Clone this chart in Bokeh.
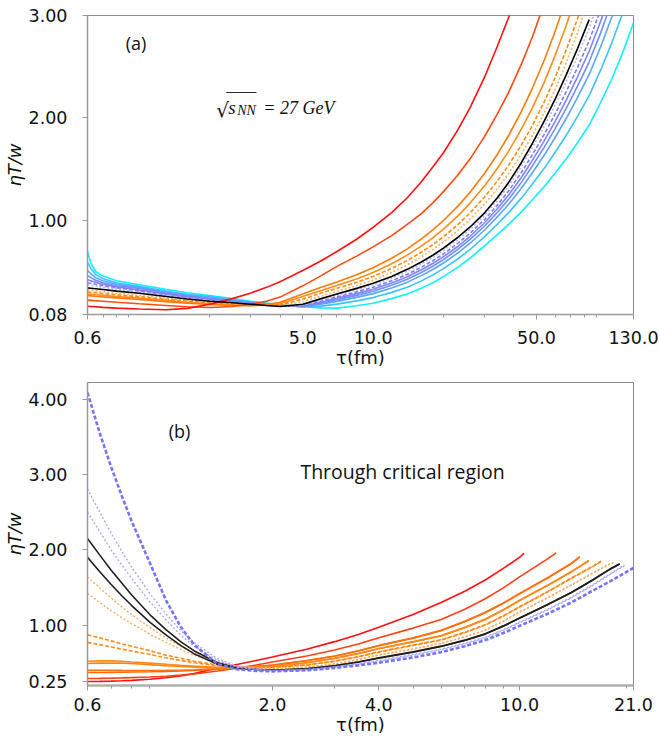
from bokeh.plotting import figure
from bokeh.layouts import column
from bokeh.models import Range1d, FixedTicker, PrintfTickFormatter, Label
from bokeh.embed import file_html
from bokeh.resources import INLINE

# ---------------- data: panel (a) ----------------
TAU_A = [0.6, 0.62, 0.65, 0.7, 0.8, 1.0, 1.3, 1.6, 2.0, 2.5, 3.0, 3.5, 4.0, 5.0, 6.0,
         7.0, 8.5, 10.0, 12.0, 14.0, 16.0, 18.0, 20.0, 23.0, 26.0, 30.0, 34.0, 38.0, 43.0,
         48.0, 54.0, 60.0, 67.0, 75.0, 84.0, 94.0, 105.0, 117.0, 130.0]
A_RED = [0.16, 0.158, 0.155, 0.15, 0.142, 0.133, 0.126, 0.14, 0.18, 0.235, 0.29, 0.345, 0.40, 0.51, 0.605,
         0.695, 0.815, 0.93, 1.075, 1.22, 1.37, 1.52, 1.66, 1.88, 2.1, 2.4, 2.7, 2.98, 3.35]
A_RORANGE = [0.22, 0.218, 0.215, 0.21, 0.2, 0.185, 0.168, 0.155, 0.148, 0.158, 0.18, 0.21, 0.25, 0.36, 0.46,
             0.55, 0.65, 0.74, 0.85, 0.96, 1.06, 1.17, 1.28, 1.44, 1.60, 1.82, 2.04, 2.25, 2.52, 2.79, 3.12]
A_OR1 = [0.265, 0.262, 0.258, 0.252, 0.242, 0.226, 0.206, 0.19, 0.178, 0.168, 0.165, 0.178, 0.2, 0.28, 0.345,
         0.398, 0.468, 0.537, 0.629, 0.721, 0.813, 0.906, 0.998, 1.136, 1.274, 1.459, 1.643, 1.828, 2.058,
         2.289, 2.565, 2.842, 3.164]
A_OR2 = [0.28, 0.277, 0.273, 0.267, 0.256, 0.24, 0.218, 0.2, 0.186, 0.175, 0.168, 0.174, 0.185, 0.255, 0.315,
         0.364, 0.427, 0.491, 0.575, 0.66, 0.745, 0.829, 0.914, 1.041, 1.168, 1.337, 1.506, 1.675, 1.887,
         2.098, 2.35, 2.606, 2.902, 3.24]
A_OR3 = [0.30, 0.296, 0.292, 0.285, 0.272, 0.254, 0.229, 0.21, 0.194, 0.181, 0.172, 0.171, 0.175, 0.23, 0.29,
         0.336, 0.394, 0.452, 0.53, 0.607, 0.685, 0.762, 0.84, 0.956, 1.073, 1.228, 1.383, 1.538, 1.732,
         1.926, 2.159, 2.392, 2.664, 2.974, 3.323]
A_OR4 = [0.32, 0.316, 0.311, 0.303, 0.288, 0.267, 0.24, 0.218, 0.2, 0.186, 0.176, 0.17, 0.168, 0.205, 0.26,
         0.305, 0.361, 0.416, 0.491, 0.565, 0.64, 0.714, 0.788, 0.9, 1.012, 1.16, 1.309, 1.458, 1.644,
         1.83, 2.053, 2.277, 2.537, 2.834, 3.169]
A_BLACK = [0.34, 0.337, 0.332, 0.324, 0.308, 0.288, 0.256, 0.232, 0.21, 0.194, 0.18, 0.168, 0.158, 0.18, 0.235,
           0.28, 0.335, 0.385, 0.452, 0.521, 0.59, 0.659, 0.728, 0.832, 0.935, 1.073, 1.22, 1.37, 1.56,
           1.75, 1.97, 2.18, 2.42, 2.68, 2.96]
A_BL1 = [0.37, 0.366, 0.358, 0.347, 0.328, 0.30, 0.265, 0.24, 0.215, 0.198, 0.183, 0.17, 0.16, 0.172, 0.225,
         0.269, 0.321, 0.369, 0.435, 0.502, 0.57, 0.637, 0.706, 0.809, 0.911, 1.047, 1.191, 1.337, 1.522,
         1.706, 1.919, 2.122, 2.354, 2.606, 2.878, 3.19]
A_BL2 = [0.39, 0.385, 0.375, 0.36, 0.34, 0.31, 0.272, 0.245, 0.22, 0.201, 0.186, 0.172, 0.162, 0.168, 0.212,
         0.252, 0.301, 0.346, 0.409, 0.473, 0.539, 0.605, 0.672, 0.774, 0.874, 1.008, 1.148, 1.288, 1.464,
         1.64, 1.842, 2.036, 2.256, 2.496, 2.754, 3.054]
A_BL3 = [0.42, 0.41, 0.395, 0.375, 0.35, 0.32, 0.28, 0.252, 0.23, 0.206, 0.19, 0.175, 0.164, 0.163, 0.2,
         0.239, 0.284, 0.327, 0.387, 0.449, 0.514, 0.578, 0.645, 0.744, 0.844, 0.976, 1.112, 1.247, 1.416,
         1.585, 1.778, 1.964, 2.174, 2.404, 2.651, 2.941, 3.262]
A_BL4 = [0.46, 0.44, 0.415, 0.39, 0.36, 0.335, 0.29, 0.258, 0.235, 0.21, 0.194, 0.178, 0.166, 0.16, 0.19,
         0.225, 0.267, 0.307, 0.365, 0.425, 0.488, 0.551, 0.617, 0.715, 0.813, 0.944, 1.076, 1.206, 1.368,
         1.53, 1.714, 1.892, 2.092, 2.312, 2.548, 2.828, 3.136]
A_BL5 = [0.51, 0.48, 0.44, 0.41, 0.375, 0.345, 0.3, 0.268, 0.245, 0.218, 0.198, 0.182, 0.168, 0.157, 0.18,
         0.208, 0.247, 0.284, 0.339, 0.396, 0.457, 0.519, 0.583, 0.68, 0.776, 0.905, 1.033, 1.157, 1.31,
         1.464, 1.637, 1.806, 1.994, 2.202, 2.424, 2.692, 2.985, 3.3]
A_BL6 = [0.59, 0.53, 0.47, 0.43, 0.39, 0.355, 0.31, 0.278, 0.255, 0.225, 0.202, 0.185, 0.17, 0.155, 0.162,
         0.181, 0.213, 0.245, 0.296, 0.347, 0.406, 0.465, 0.528, 0.622, 0.715, 0.84, 0.961, 1.075, 1.214,
         1.354, 1.509, 1.662, 1.83, 2.018, 2.218, 2.466, 2.733, 3.026, 3.35]
A_CYAN = [0.70, 0.58, 0.50, 0.455, 0.41, 0.37, 0.325, 0.292, 0.265, 0.235, 0.21, 0.192, 0.176, 0.156, 0.145,
          0.142, 0.165, 0.19, 0.235, 0.28, 0.335, 0.39, 0.45, 0.54, 0.63, 0.75, 0.86, 0.96, 1.08,
          1.2, 1.33, 1.46, 1.6, 1.76, 1.93, 2.15, 2.38, 2.64, 2.93]

A_XTICKS = [0.6, 5.0, 10.0, 50.0, 130.0]
A_XMINOR = [0.7, 0.8, 0.9, 2, 3, 4, 6, 7, 8, 9, 20, 30, 40, 60, 70, 80, 90]
A_YTICKS = [0.08, 1.0, 2.0, 3.0]

# ---------------- data: panel (b) ----------------
TAU_B = [0.6, 0.65, 0.7, 0.75, 0.8, 0.9, 1.0, 1.1, 1.2, 1.4, 1.6, 1.8, 2.0, 2.5, 3.0, 3.5, 4.0,
         5.0, 6.0, 7.0, 8.0, 9.0, 10.0, 12.0, 14.0, 16.0, 18.0, 21.0]
B_R1 = [0.25, 0.252, 0.255, 0.26, 0.265, 0.28, 0.30, 0.325, 0.355, 0.43, 0.48, 0.53, 0.575, 0.68, 0.78, 0.875,
        0.97, 1.14, 1.30, 1.45, 1.6, 1.755, 1.9]
B_R2 = [0.29, 0.292, 0.295, 0.298, 0.302, 0.31, 0.32, 0.335, 0.35, 0.39, 0.43, 0.47, 0.51, 0.59, 0.67, 0.75,
        0.833, 0.96, 1.075, 1.21, 1.35, 1.495, 1.64, 1.88]
B_O1 = [0.37, 0.37, 0.372, 0.374, 0.376, 0.38, 0.385, 0.39, 0.397, 0.415, 0.43, 0.447, 0.465, 0.525, 0.585,
        0.655, 0.725, 0.825, 0.925, 1.045, 1.165, 1.29, 1.415, 1.625, 1.815]
B_O2 = [0.40, 0.40, 0.40, 0.398, 0.397, 0.397, 0.398, 0.40, 0.405, 0.42, 0.435, 0.452, 0.47, 0.53, 0.59,
        0.66, 0.73, 0.83, 0.93, 1.05, 1.17, 1.295, 1.42, 1.63, 1.82]
B_O3 = [0.49, 0.495, 0.497, 0.495, 0.49, 0.475, 0.46, 0.45, 0.44, 0.43, 0.43, 0.438, 0.45, 0.5, 0.555,
        0.62, 0.685, 0.775, 0.855, 0.965, 1.075, 1.2, 1.325, 1.525, 1.705]
B_O4 = [0.52, 0.525, 0.525, 0.52, 0.51, 0.495, 0.48, 0.465, 0.455, 0.44, 0.435, 0.44, 0.45, 0.5, 0.56,
        0.625, 0.69, 0.78, 0.86, 0.97, 1.08, 1.205, 1.33, 1.53, 1.71]
B_D1 = [0.77, 0.74, 0.71, 0.68, 0.655, 0.61, 0.565, 0.53, 0.5, 0.46, 0.44, 0.438, 0.44, 0.47, 0.52,
        0.58, 0.645, 0.735, 0.805, 0.905, 1.005, 1.125, 1.245, 1.445, 1.625, 1.775]
B_D2 = [0.87, 0.83, 0.79, 0.75, 0.72, 0.66, 0.6, 0.56, 0.52, 0.47, 0.445, 0.44, 0.44, 0.47, 0.52,
        0.58, 0.64, 0.73, 0.80, 0.90, 1.0, 1.12, 1.24, 1.44, 1.62, 1.77]
B_P1 = [1.42, 1.3, 1.19, 1.1, 1.02, 0.88, 0.77, 0.68, 0.6, 0.5, 0.45, 0.43, 0.42, 0.44, 0.485,
        0.545, 0.605, 0.685, 0.76, 0.845, 0.935, 1.055, 1.175, 1.365, 1.535, 1.685, 1.815]
B_P2 = [1.64, 1.49, 1.36, 1.24, 1.14, 0.97, 0.83, 0.72, 0.63, 0.51, 0.45, 0.43, 0.42, 0.44, 0.48,
        0.54, 0.60, 0.68, 0.755, 0.84, 0.93, 1.05, 1.17, 1.36, 1.53, 1.68, 1.81]
B_K1 = [1.9, 1.71, 1.54, 1.39, 1.26, 1.04, 0.87, 0.73, 0.62, 0.48, 0.425, 0.41, 0.40, 0.42, 0.46,
        0.51, 0.565, 0.645, 0.72, 0.8, 0.885, 0.99, 1.095, 1.275, 1.435, 1.595, 1.745]
B_K2 = [2.15, 1.93, 1.73, 1.56, 1.4, 1.14, 0.94, 0.78, 0.66, 0.5, 0.43, 0.412, 0.40, 0.42, 0.46,
        0.51, 0.56, 0.64, 0.715, 0.795, 0.88, 0.985, 1.09, 1.27, 1.43, 1.59, 1.74]
B_B1 = [2.5, 2.24, 2.0, 1.8, 1.62, 1.31, 1.07, 0.87, 0.72, 0.53, 0.44, 0.41, 0.395, 0.41, 0.445,
        0.488, 0.53, 0.61, 0.68, 0.76, 0.84, 0.94, 1.04, 1.21, 1.37, 1.53, 1.68]
B_B2 = [2.81, 2.5, 2.22, 1.98, 1.77, 1.42, 1.15, 0.93, 0.77, 0.55, 0.45, 0.412, 0.395, 0.405, 0.44,
        0.48, 0.52, 0.6, 0.67, 0.75, 0.83, 0.93, 1.03, 1.2, 1.36, 1.52, 1.67]
B_BD = [4.09, 3.55, 3.1, 2.72, 2.38, 1.83, 1.33, 0.98, 0.74, 0.48, 0.41, 0.392, 0.385, 0.40, 0.43,
        0.465, 0.50, 0.57, 0.64, 0.72, 0.80, 0.895, 0.99, 1.15, 1.30, 1.45, 1.58, 1.76]
# last (tau, value) point of each curve of panel (b), same order as B_CURVES below
B_END_TAU = [10.3, 12.7, 14.8, 14.8, 15.7, 15.7, 17.0, 17.0, 18.4, 18.4, 19.2, 19.2, 19.8, 19.8, None]
B_END_VAL = [1.955, 1.96, 1.905, 1.91, 1.855, 1.86, 1.85, 1.845, 1.835, 1.83, 1.815, 1.81, 1.80, 1.79, None]

B_XTICKS = [0.6, 2.0, 4.0, 10.0, 21.0]
B_XMINOR = [0.7, 0.8, 0.9, 3, 5, 6, 7, 8, 9, 20]
B_YTICKS = [0.25, 1.0, 2.0, 3.0, 4.0]

# ---------------- styles ----------------
A_CURVES = [
    (A_CYAN, "#10f0ff", "solid", 1.6),
    (A_BL6, "#3cc4ff", "solid", 1.6),
    (A_BL5, "#5aa6ff", "solid", 1.6),
    (A_BL4, "#7090ff", "solid", 1.6),
    (A_BL3, "#8282ff", "solid", 1.6),
    (A_BL2, "#7c7cf4", "4 2", 1.6),
    (A_BL1, "#b4b4ff", "2 2", 1.6),
    (A_OR4, "#ffb060", "2 2", 1.6),
    (A_OR3, "#ff8a10", "4 2", 1.6),
    (A_OR2, "#ff8c1a", "solid", 1.6),
    (A_OR1, "#ff7a0a", "solid", 1.6),
    (A_RORANGE, "#ff4a10", "solid", 1.6),
    (A_RED, "#ff1010", "solid", 1.6),
    (A_BLACK, "#000000", "solid", 1.6),
]

B_CURVES = [
    (B_R1, "#ff1010", "solid", 1.6),
    (B_R2, "#ff4214", "solid", 1.6),
    (B_O1, "#ff6a0a", "solid", 1.6),
    (B_O2, "#ff7010", "solid", 1.6),
    (B_O3, "#ff8414", "solid", 1.6),
    (B_O4, "#ff8a1c", "solid", 1.6),
    (B_D1, "#ff8c1a", "4 2", 1.6),
    (B_D2, "#ff8c1a", "4 2", 1.6),
    (B_P1, "#ffac66", "2 2", 1.4),
    (B_P2, "#ffac66", "2 2", 1.4),
    (B_K1, "#202020", "solid", 1.6),
    (B_K2, "#202020", "solid", 1.6),
    (B_B1, "#a8a8ff", "2 2", 1.4),
    (B_B2, "#a8a8ff", "2 2", 1.4),
    (B_BD, "#7474ff", "4 2", 2.6),
]


def style_axes(p, xticks, xminor, yticks, xstand):
    p.xgrid.visible = False
    p.ygrid.visible = False
    p.title.visible = False
    p.outline_line_color = "#8c8c8c"
    p.outline_line_width = 1
    p.xaxis.ticker = FixedTicker(ticks=xticks, minor_ticks=xminor)
    p.yaxis.ticker = FixedTicker(ticks=yticks, minor_ticks=[])
    p.xaxis.formatter = PrintfTickFormatter(format="%.1f")
    p.yaxis.formatter = PrintfTickFormatter(format="%.2f")
    for ax in (p.xaxis, p.yaxis):
        ax.axis_line_color = "#9a9a9a"
        ax.axis_line_width = 1.5
        ax.major_tick_line_color = "#9a9a9a"
        ax.minor_tick_line_color = "#9a9a9a"
        ax.major_tick_in = 0
        ax.major_tick_out = 5
        ax.minor_tick_in = 0
        ax.minor_tick_out = 3
        ax.major_label_text_font = "DejaVu Sans"
        ax.major_label_text_font_size = "17.5px"
        ax.major_label_text_color = "#111111"
    p.xaxis.major_label_standoff = xstand
    p.yaxis.major_label_standoff = 15
    p.yaxis.axis_label = "ηT/w"
    p.yaxis.axis_label_text_font = "DejaVu Sans"
    p.yaxis.axis_label_text_font_style = "italic"
    p.yaxis.axis_label_text_font_size = "18px"
    p.yaxis.axis_label_text_color = "#111111"
    p.yaxis.axis_label_standoff = 1
    p.xaxis.axis_label = "τ(fm)"
    p.xaxis.axis_label_text_font = "DejaVu Sans"
    p.xaxis.axis_label_text_font_style = "normal"
    p.xaxis.axis_label_text_font_size = "18px"
    p.xaxis.axis_label_text_color = "#111111"
    p.xaxis.axis_label_standoff = 0


# ---------------- panel (a) ----------------
p1 = figure(width=659, height=371, x_axis_type="log",
            x_range=Range1d(0.6, 130.0), y_range=Range1d(0.08, 3.0),
            output_backend="svg", toolbar_location=None,
            min_border_left=86, min_border_right=26, min_border_top=15, min_border_bottom=57)
style_axes(p1, A_XTICKS, A_XMINOR, A_YTICKS, 11)

for vals, color, dash, w in A_CURVES:
    p1.line(TAU_A[:len(vals)], vals, line_color=color, line_dash=dash, line_width=w)

p1.add_layout(Label(x=0.875, y=2.727, text="(a)", text_font="Open Sans", text_font_size="18px",
                    text_baseline="middle", text_align="left", text_color="#111111"))
SQ_X, SQ_Y = 2.112, 2.101
p1.add_layout(Label(x=SQ_X, y=SQ_Y, x_offset=1, y_offset=-2, text="√", text_font="DejaVu Sans",
                    text_font_size="20px", text_baseline="alphabetic", text_color="#111111"))
p1.add_layout(Label(x=SQ_X, y=SQ_Y, x_offset=11, y_offset=10, text="‾‾‾‾‾", text_font="DejaVu Sans",
                    text_font_size="12px", text_baseline="alphabetic", text_color="#111111"))
p1.add_layout(Label(x=SQ_X, y=SQ_Y, x_offset=13, text="s", text_font="Liberation Serif",
                    text_font_style="italic", text_font_size="19px", text_baseline="alphabetic",
                    text_color="#111111"))
p1.add_layout(Label(x=SQ_X, y=SQ_Y, x_offset=22, y_offset=-3, text="NN", text_font="Liberation Serif",
                    text_font_style="italic", text_font_size="14px", text_baseline="alphabetic",
                    text_color="#111111"))
p1.add_layout(Label(x=SQ_X, y=SQ_Y, x_offset=48, text="= 27 GeV", text_font="Liberation Serif",
                    text_font_style="italic", text_font_size="18px", text_baseline="alphabetic",
                    text_color="#111111"))

# ---------------- panel (b) ----------------
p2 = figure(width=659, height=367, x_axis_type="log",
            x_range=Range1d(0.6, 21.0), y_range=Range1d(0.197, 4.225),
            output_backend="svg", toolbar_location=None,
            min_border_left=87, min_border_right=21, min_border_top=11, min_border_bottom=53)
style_axes(p2, B_XTICKS, B_XMINOR, B_YTICKS, 7)
p2.xaxis.axis_line_width = 2.5
p2.xaxis.axis_line_color = "#b0b0b0"

for (vals, color, dash, w), et, ev in zip(B_CURVES, B_END_TAU, B_END_VAL):
    xs = TAU_B[:len(vals)]
    ys = list(vals)
    if et is not None:
        xs = xs + [et]
        ys = ys + [ev]
    p2.line(xs, ys, line_color=color, line_dash=dash, line_width=w)

p2.add_layout(Label(x=1.018, y=3.58, text="(b)", text_font="Open Sans", text_font_size="18px",
                    text_baseline="middle", text_align="left", text_color="#111111"))
p2.add_layout(Label(x=2.40, y=3.04, text="Through critical region", text_font="Open Sans",
                    text_font_size="19.5px", text_baseline="middle", text_align="left",
                    text_color="#111111"))

layout = column(p1, p2)
open("out.html", "w").write(file_html(layout, INLINE))
